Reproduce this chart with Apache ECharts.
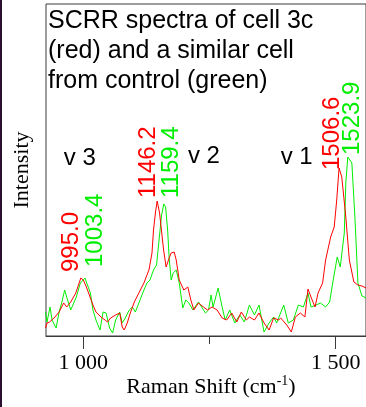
<!DOCTYPE html>
<html><head><meta charset="utf-8">
<script src="https://cdn.jsdelivr.net/npm/echarts@6/dist/echarts.min.js"></script>
<style>html,body{margin:0;padding:0;background:#fff}#c{width:366px;height:407px}</style>
</head><body><div id="c"></div>
<script>
// Raman shift (cm-1) and intensity (arbitrary units)
const redX = [925,928,933,936,942,952,961,967,975,985,995,1000,1006,1014,1019,1025,1035,1043,1048,1054,1064,1072,1077,1081,1087,1093,1101,1110,1120,1126,1130,1136,1139,1143,1146.2,1151,1159,1164,1170,1174,1180,1184,1190,1199,1207,1213,1219,1228,1238,1246,1255,1265,1275,1284,1294,1304,1313,1323,1329,1339,1348,1358,1368,1377,1387,1391,1403,1412,1420,1430,1439,1445,1451,1459,1465,1474,1480,1490,1497,1502,1506.6,1512,1520,1527,1536,1544,1552,1560];
const redY = [8,13,14,14,18,24,33,29,34,43,58,56,49,38,31,24,19,16,14,18,21,23,9,6,13,23,34,43,53,61,66,83,106,124,135,123,86,69,78,83,84,76,56,46,49,36,26,33,29,26,29,26,18,16,23,14,24,16,19,16,23,13,6,18,16,18,11,4,19,23,19,47,39,29,43,53,76,99,109,136,168,159,119,76,54,51,50,48];
const greenX = [925,928,934,938,946,952,957,963,967,975,981,986,994,1003.4,1006,1014,1019,1025,1033,1039,1045,1052,1058,1064,1072,1077,1083,1091,1097,1103,1110,1120,1126,1132,1139,1145,1151,1155,1159.4,1163,1167,1170,1174,1178,1184,1190,1197,1203,1209,1217,1228,1242,1248,1253,1257,1267,1275,1281,1290,1300,1310,1319,1329,1339,1348,1358,1368,1377,1383,1397,1406,1416,1426,1436,1445,1451,1461,1470,1480,1488,1494,1503,1509,1517,1520,1523.9,1532,1538,1544,1552,1560];
const greenY = [24,14,29,16,8,24,33,46,39,26,33,39,53,58,54,43,26,16,6,24,23,8,3,16,24,13,18,26,29,24,33,46,53,56,66,71,101,121,132,129,106,78,56,63,66,53,28,36,33,26,34,23,26,41,29,48,29,16,26,13,21,14,31,21,31,4,13,19,13,31,13,16,31,29,43,29,31,33,29,34,53,79,69,103,153,179,173,119,53,40,38];

const majorTicks = [1000, 1500];
const minorTicks = [1250];
const titleLines = ['SCRR spectra of cell 3c', '(red) and a similar cell', 'from control (green)'];
const peakRed = ['995.0', '1146.2', '1506.6'];
const peakGreen = ['1003.4', '1159.4', '1523.9'];
const bandNames = ['v 3', 'v 2', 'v 1'];

// annotation anchors (data coordinates)
const peakRedAt = [[976.8, 64], [1129.7, 138], [1493.5, 166]];
const peakGreenAt = [[1024, 69], [1174, 138], [1533, 181]];
const bandAt = [[961.3, 178], [1207.1, 180], [1391, 179]];

const chart = echarts.init(document.getElementById('c'));
const fmt = v => String(v).replace(/(\d)(?=(\d{3})+$)/, '$1 ');
const axisColor = '#3a3a3a';
chart.setOption({
  animation: false,
  grid: {left: 46, top: 4, width: 328, height: 332, show: true, borderColor: axisColor, borderWidth: 1},
  xAxis: [{
    type: 'value', min: 926, max: 1560, position: 'bottom',
    axisLine: {show: true, lineStyle: {color: axisColor, width: 1}},
    axisTick: {show: true, customValues: majorTicks, length: 13, lineStyle: {color: axisColor}},
    axisLabel: {customValues: majorTicks, formatter: fmt, fontFamily: 'Liberation Serif', fontSize: 22, color: '#000', margin: 16},
    splitLine: {show: false}
  }, {
    type: 'value', min: 926, max: 1560, position: 'bottom', gridIndex: 0,
    axisLine: {show: false},
    axisTick: {show: true, customValues: minorTicks, length: 8, lineStyle: {color: axisColor}},
    axisLabel: {show: false}, splitLine: {show: false}
  }],
  yAxis: {type: 'value', min: 0, max: 332, show: false},
  series: [
    {type: 'line', data: greenX.map((x, i) => [x, greenY[i]]), symbol: 'none', lineStyle: {color: '#00ee00', width: 1}, z: 2},
    {type: 'line', data: redX.map((x, i) => [x, redY[i]]), symbol: 'none', lineStyle: {color: '#ff0000', width: 1}, z: 3}
  ]
});

const px = p => chart.convertToPixel({xAxisIndex: 0, yAxisIndex: 0}, p);
const g = [];
g.push({type: 'rect', shape: {x: 0, y: 0, width: 2, height: 407}, style: {fill: '#2a0f2e'}});
g.push({type: 'text', x: 48, y: 6, style: {text: titleLines.join('\n'), fontSize: 25, fontFamily: 'Liberation Sans', lineHeight: 30, fill: '#000', align: 'left', verticalAlign: 'top'}});
function peak(t, at, color) {
  const p = px(at);
  g.push({type: 'text', x: p[0], y: p[1], rotation: Math.PI / 2, style: {text: t, fontSize: 24, fontFamily: 'Liberation Sans', fill: color, align: 'left', verticalAlign: 'middle'}});
}
peakRed.forEach((t, i) => peak(t, peakRedAt[i], '#ff0000'));
peakGreen.forEach((t, i) => peak(t, peakGreenAt[i], '#00ee00'));
bandNames.forEach((t, i) => {
  const p = px(bandAt[i]);
  g.push({type: 'text', x: p[0], y: p[1], style: {text: t, fontSize: 24, fontFamily: 'Liberation Sans', fill: '#000', align: 'left', verticalAlign: 'middle'}});
});
g.push({type: 'text', x: 22, y: 170, rotation: Math.PI / 2, style: {text: 'Intensity', fontSize: 22, fontFamily: 'Liberation Serif', fill: '#000', align: 'center', verticalAlign: 'middle'}});
g.push({type: 'text', x: 211, y: 387, style: {
  text: '{a|Raman Shift (cm}{s|-1}{a|)}', align: 'center', verticalAlign: 'middle',
  rich: {a: {fontSize: 22, fontFamily: 'Liberation Serif', fill: '#000', lineHeight: 26, verticalAlign: 'middle'},
         s: {fontSize: 14, fontFamily: 'Liberation Serif', fill: '#000', lineHeight: 14, verticalAlign: 'top'}}
}});
chart.setOption({graphic: {elements: g}});
</script></body></html>
